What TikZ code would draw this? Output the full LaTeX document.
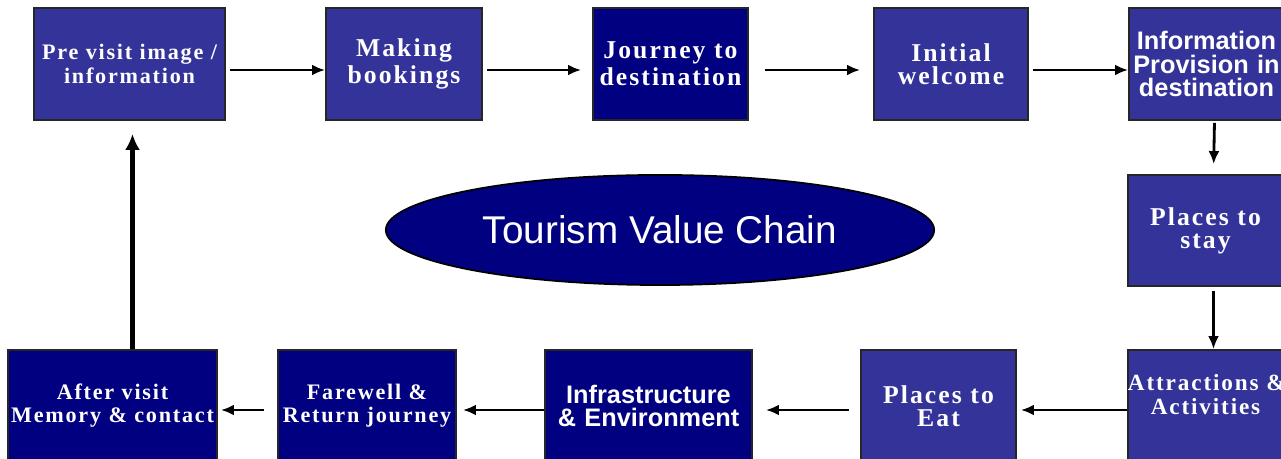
\documentclass[tikz,border=0pt]{standalone}
\usepackage{fontspec}
\setmainfont{Liberation Serif}
\setsansfont{Liberation Sans}
\usetikzlibrary{arrows.meta,shapes.geometric}
\definecolor{boxblue}{RGB}{51,51,153}
\definecolor{navyblue}{RGB}{0,0,128}
\newfontfamily\stageserif[LetterSpace=8]{Liberation Serif}
\tikzset{
  stage/.style={draw=black!85, line width=0.5pt, fill=boxblue, text=white,
    align=center, minimum height=1.12cm, inner xsep=0pt, inner ysep=1pt,
    font=\stageserif\bfseries\fontsize{7.3}{6.6}\selectfont},
  darkstage/.style={stage, fill=navyblue},
  smallstage/.style={font=\stageserif\bfseries\fontsize{6.3}{6.6}\selectfont},
  sansstage/.style={font=\sffamily\bfseries\fontsize{7.2}{6.6}\selectfont},
  flow/.style={-{Latex[length=0.13cm,width=0.11cm]}, line width=0.8pt},
  bigflow/.style={-{Latex[length=0.16cm,width=0.15cm]}, line width=1.4pt}
}

\begin{document}
\begin{tikzpicture}[x=0.01cm, y=-0.01cm]
		%%%%% FRAME %%%%%
		\useasboundingbox (0,0) rectangle (1281,459);
		\clip (0,0) rectangle (1281,459);
		
		%%%%% TOP ROW %%%%%
		\node[stage, smallstage, text width=1.91cm] (pre) at (129.5,64) {Pre visit image /\\information};
		\node[stage, text width=1.56cm] (book) at (404,64) {Making\\bookings};
		\node[darkstage, text width=1.55cm] (journey) at (670.5,64) {Journey to\\destination};
		\node[stage, text width=1.54cm] (welcome) at (951,64) {Initial\\welcome};
		\node[stage, sansstage, text width=1.55cm] (info) at (1206.5,64) {Information\\Provision in\\destination};
		
		%%%%% RIGHT COLUMN %%%%%
		\node[stage, text width=1.55cm, minimum height=1.11cm] (stay) at (1205.5,230.5) {Places to\\stay};
		\node[stage, text width=1.55cm,
		  font=\stageserif\bfseries\fontsize{6.6}{6.6}\selectfont] (attr) at (1205.5,406) {\mbox{Attractions \&}\\Activities\\\mbox{}};
		
		%%%%% BOTTOM ROW %%%%%
		\node[stage, text width=1.55cm] (eat) at (938.5,406) {Places to\\Eat};
		\node[darkstage, sansstage, text width=2.07cm] (infra) at (648.5,406) {Infrastructure\\\& Environment};
		\node[darkstage, smallstage, text width=1.78cm] (farewell) at (367,406) {Farewell \&\\Return journey};
		\node[darkstage, smallstage, text width=2.09cm] (after) at (112.5,406) {After visit\\Memory \& contact};
		
		%%%%% CENTRE %%%%%
		\node[ellipse, draw=black, line width=0.5pt, fill=navyblue, text=white,
		  minimum width=5.48cm, minimum height=1.1cm,
		  font=\sffamily\fontsize{11}{12}\selectfont] (tvc) at (660,230) {Tourism Value Chain};
		
		%%%%% ARROWS %%%%%
		\draw[flow, shorten <=0.04cm] ([yshift=-0.06cm]pre.east) -- ([yshift=-0.06cm]book.west);
		\draw[flow, shorten <=0.04cm, shorten >=0.11cm] ([yshift=-0.06cm]book.east) -- ([yshift=-0.06cm]journey.west);
		\draw[flow, shorten <=0.16cm, shorten >=0.13cm] ([yshift=-0.06cm]journey.east) -- ([yshift=-0.06cm]welcome.west);
		\draw[flow, shorten <=0.04cm] ([yshift=-0.06cm]welcome.east) -- ([yshift=-0.06cm]info.west);
		\draw[flow, shorten <=0.02cm, shorten >=0.1cm] ([xshift=0.08cm]info.south) -- ([xshift=0.08cm]stay.north);
		\draw[flow, shorten <=0.04cm] ([xshift=0.08cm]stay.south) -- ([xshift=0.08cm]attr.north);
		\draw[flow, shorten >=0.04cm] ([yshift=-0.04cm]attr.west) -- ([yshift=-0.04cm]eat.east);
		\draw[flow, shorten <=0.11cm, shorten >=0.13cm] ([yshift=-0.04cm]eat.west) -- ([yshift=-0.04cm]infra.east);
		\draw[flow, shorten >=0.06cm] ([yshift=-0.04cm]infra.west) -- ([yshift=-0.04cm]farewell.east);
		\draw[flow, shorten <=0.13cm, shorten >=0.03cm] ([yshift=-0.04cm]farewell.west) -- ([yshift=-0.04cm]after.east);
		\draw[bigflow, shorten >=0.13cm] ([xshift=0.03cm]after.north -| pre.south) -- ([xshift=0.03cm]pre.south);
		
		%%%%% END %%%%%
\end{tikzpicture}
\end{document}
